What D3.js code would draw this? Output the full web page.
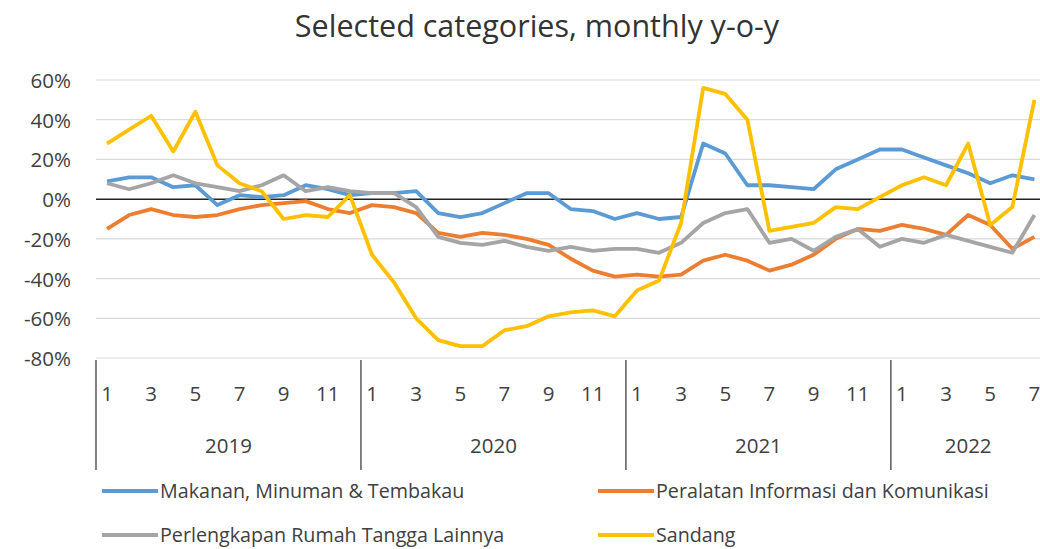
<!DOCTYPE html>
<html>
<head>
<meta charset="utf-8">
<script src="https://cdn.jsdelivr.net/npm/d3@7"></script>
<style>
  body { margin: 0; background: #fff; }
  svg text { font-family: "Open Sans", sans-serif; fill: #404040; }
</style>
</head>
<body>
<div id="chart"></div>
<script>
const width = 1040,
      height = 549;

// data, Jan 2019 .. Jul 2022
const years = ["2019", "2020", "2021", "2022"]
const monthsPerYear = [12, 12, 12, 7]
const yTicks = [60, 40, 20, 0, -20, -40, -60, -80]
const seriesNames = ["Makanan, Minuman & Tembakau", "Peralatan Informasi dan Komunikasi",
                     "Perlengkapan Rumah Tangga Lainnya", "Sandang"]

const makanan = [9, 11, 11, 6, 7, -3, 2, 1, 2, 7, 5, 2,
                 3, 3, 4, -7, -9, -7, -2, 3, 3, -5, -6, -10,
                 -7, -10, -9, 28, 23, 7, 7, 6, 5, 15, 20, 25,
                 25, 21, 17, 13, 8, 12, 10]
const peralatan = [-15, -8, -5, -8, -9, -8, -5, -3, -2, -1, -5, -7,
                   -3, -4, -7, -17, -19, -17, -18, -20, -23, -30, -36, -39,
                   -38, -39, -38, -31, -28, -31, -36, -33, -28, -20, -15, -16,
                   -13, -15, -18, -8, -13, -25, -19]
const perlengkapan = [8, 5, 8, 12, 8, 6, 4, 7, 12, 4, 6, 4,
                      3, 3, -4, -19, -22, -23, -21, -24, -26, -24, -26, -25,
                      -25, -27, -22, -12, -7, -5, -22, -20, -26, -19, -15, -24,
                      -20, -22, -18, -21, -24, -27, -8]
const sandang = [28, 35, 42, 24, 44, 17, 8, 4, -10, -8, -9, 2,
                 -28, -42, -60, -71, -74, -74, -66, -64, -59, -57, -56, -59,
                 -46, -41, -12, 56, 53, 40, -16, -14, -12, -4, -5, 1,
                 7, 11, 7, 28, -13, -4, 50]

const colors = ["#5B9BD5", "#ED7D31", "#A5A5A5", "#FFC000"]
const allSeries = [makanan, peralatan, perlengkapan, sandang]

const nPoints = d3.sum(monthsPerYear)
const monthStep = 22.08

const x = d3.scaleLinear()
            .domain([0, nPoints])
            .range([96, 96 + nPoints * monthStep])

const y = d3.scaleLinear()
            .domain([-80, 60])
            .range([358, 80])

let svg = d3.select("#chart")
          .append("svg")
            .attr("width", width)
            .attr("height", height)

// title
svg.append("text")
   .attr("x", 537)
   .attr("y", 37)
   .attr("text-anchor", "middle")
   .style("font-size", "30.5px")
   .style("fill", "#333")
   .text("Selected categories, monthly y-o-y")

// gridlines
svg.append("g")
   .selectAll("line")
   .data(yTicks.filter(d => d !== 0))
   .join("line")
     .attr("x1", x(0))
     .attr("x2", width)
     .attr("y1", d => y(d))
     .attr("y2", d => y(d))
     .attr("stroke", "#d9d9d9")
     .attr("stroke-width", 1.2)

// y labels
svg.append("g")
   .selectAll("text")
   .data(yTicks)
   .join("text")
     .attr("x", 71)
     .attr("y", d => y(d) + 8)
     .attr("text-anchor", "end")
     .style("font-size", "20.5px")
     .text(d => d + "%")

// zero line
svg.append("line")
   .attr("x1", x(0))
   .attr("x2", width)
   .attr("y1", y(0))
   .attr("y2", y(0))
   .attr("stroke", "#222")
   .attr("stroke-width", 1.5)

// lines
const line = d3.line()
               .x((d, i) => x(i + 0.5))
               .y(d => y(d))

svg.append("g")
   .selectAll("path")
   .data(allSeries)
   .join("path")
     .attr("d", line)
     .attr("fill", "none")
     .attr("stroke", (d, i) => colors[i])
     .attr("stroke-width", 3.8)
     .attr("stroke-linejoin", "round")

// x axis: months + years
let starts = []
let acc = 0
monthsPerYear.forEach(n => { starts.push(acc); acc += n })

const xAxis = svg.append("g")

xAxis.selectAll("line.sep")
   .data(starts)
   .join("line")
     .attr("class", "sep")
     .attr("x1", d => x(d))
     .attr("x2", d => x(d))
     .attr("y1", 360)
     .attr("y2", 470)
     .attr("stroke", "#404040")
     .attr("stroke-width", 1.3)

years.forEach((yr, k) => {
  const months = d3.range(1, monthsPerYear[k] + 1, 2)
  xAxis.append("g")
    .selectAll("text")
    .data(months)
    .join("text")
      .attr("x", m => x(starts[k] + m - 0.5))
      .attr("y", 401)
      .attr("text-anchor", "middle")
      .style("font-size", "20.5px")
      .text(m => m)

  xAxis.append("text")
    .attr("x", x(starts[k] + monthsPerYear[k] / 2))
    .attr("y", 453)
    .attr("text-anchor", "middle")
    .style("font-size", "20.5px")
    .text(yr)
})

// legend
const legendPos = [[102, 491], [598, 491], [102, 535], [598, 535]]
const legend = svg.append("g")
  .selectAll("g")
  .data(seriesNames)
  .join("g")
    .attr("transform", (d, i) => `translate(${legendPos[i][0]},${legendPos[i][1]})`)

legend.append("line")
  .attr("x1", 0)
  .attr("x2", 56)
  .attr("stroke", (d, i) => colors[i])
  .attr("stroke-width", 4)

legend.append("text")
  .attr("x", 58)
  .attr("y", 7)
  .style("font-size", "19.7px")
  .text(d => d)
</script>
</body>
</html>
